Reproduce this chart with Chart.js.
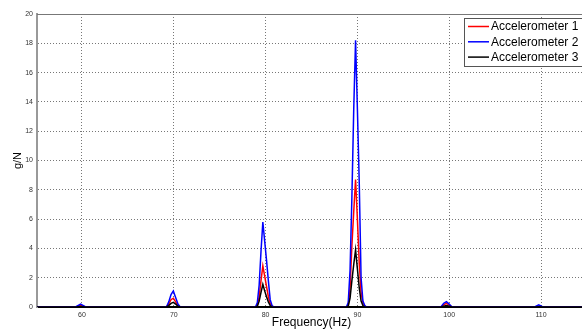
<!DOCTYPE html>
<html lang="en">
<head>
    <meta charset="UTF-8" />
    <title>Accelerometer FRF</title>
    <script src="https://cdn.jsdelivr.net/npm/chart.js"></script>
    <style>
        html, body { margin: 0; padding: 0; background: #fff; overflow: hidden; }
        #wrap { width: 590px; height: 330px; }
    </style>
</head>
<body>
<div id="wrap"><canvas id="frfChart" width="590" height="330"></canvas></div>
<script>
    // frequency points (Hz)
    const freq = [55,
        59.3, 59.85, 60.4,
        69.2, 69.45, 69.7, 69.95, 70.2, 70.45, 70.7,
        78.9, 79.1, 79.3, 79.5, 79.7, 79.9, 80.1, 80.3, 80.5, 80.7, 80.9,
        88.8, 89.0, 89.2, 89.4, 89.6, 89.8, 90.0, 90.2, 90.4, 90.6, 90.8, 91.0,
        99.1, 99.4, 99.7, 100.0, 100.3,
        109.3, 109.75, 110.2,
        115];

    // g/N
    const accel1 = [0,
        0, 0.1, 0,
        0, 0.2, 0.5, 0.6, 0.35, 0.1, 0,
        0, 0.1, 0.7, 1.8, 2.8, 2.1, 1.4, 0.7, 0.25, 0.05, 0,
        0, 0.1, 1.3, 4.2, 6.5, 8.7, 6.0, 3.0, 1.0, 0.3, 0.05, 0,
        0, 0.15, 0.25, 0.12, 0,
        0, 0.05, 0,
        0];
    const accel2 = [0,
        0, 0.2, 0,
        0, 0.35, 0.85, 1.1, 0.65, 0.2, 0,
        0, 0.3, 1.5, 3.8, 5.8, 4.5, 3.2, 1.8, 0.5, 0.1, 0,
        0, 0.3, 2.5, 7.5, 13.5, 18.2, 13.5, 8.5, 2.0, 0.4, 0.1, 0,
        0, 0.25, 0.36, 0.2, 0,
        0, 0.15, 0,
        0];
    const accel3 = [0,
        0, 0.03, 0,
        0, 0.1, 0.25, 0.32, 0.2, 0.05, 0,
        0, 0.05, 0.4, 1.0, 1.55, 1.1, 0.7, 0.35, 0.1, 0, 0,
        0, 0.05, 0.6, 1.8, 2.9, 3.9, 2.6, 1.3, 0.4, 0.1, 0, 0,
        0, 0.05, 0.1, 0.05, 0,
        0, 0.02, 0,
        0];

    const seriesNames = ['Accelerometer 1', 'Accelerometer 2', 'Accelerometer 3'];
    const seriesColors = ['#ff0000', '#0000ff', '#000000'];
    const xTicks = [60, 70, 80, 90, 100, 110];
    const yTicks = [0, 2, 4, 6, 8, 10, 12, 14, 16, 18, 20];

    const toPoints = vals => freq.map((f, i) => ({ x: f, y: vals[i] }));

    // boxed legend in the upper right, plus the top frame line
    const boxLegend = {
        id: 'boxLegend',
        afterDraw(chart) {
            const ctx = chart.ctx;
            const a = chart.chartArea;
            ctx.save();
            ctx.strokeStyle = '#777';
            ctx.lineWidth = 1;
            ctx.beginPath();
            ctx.moveTo(a.left, a.top + 0.5);
            ctx.lineTo(a.right, a.top + 0.5);
            ctx.stroke();

            const x0 = 464.5, y0 = 18.5, w = 150, h = 48;
            ctx.fillStyle = '#fff';
            ctx.fillRect(x0, y0, w, h);
            ctx.strokeStyle = '#555';
            ctx.strokeRect(x0, y0, w, h);
            ctx.font = '12px "Liberation Sans", Arial, sans-serif';
            ctx.textBaseline = 'middle';
            chart.data.datasets.forEach((ds, i) => {
                const y = 26.5 + i * 15.3;
                ctx.strokeStyle = ds.borderColor;
                ctx.lineWidth = 1.5;
                ctx.beginPath();
                ctx.moveTo(468, y);
                ctx.lineTo(489, y);
                ctx.stroke();
                ctx.fillStyle = '#000';
                ctx.fillText(ds.label, 491, y + 0.5);
            });
            ctx.restore();
        }
    };

    new Chart(document.getElementById('frfChart'), {
        type: 'line',
        data: {
            datasets: [accel1, accel2, accel3].map((vals, i) => ({
                label: seriesNames[i],
                data: toPoints(vals),
                borderColor: seriesColors[i],
                borderWidth: 1.5,
                pointRadius: 0,
                tension: 0,
                order: 2 - i
            }))
        },
        options: {
            responsive: false,
            animation: false,
            layout: { padding: { top: 14, right: 4, left: 0, bottom: 0 } },
            plugins: { legend: { display: false }, tooltip: { enabled: false } },
            scales: {
                x: {
                    type: 'linear',
                    min: 55.1,
                    max: 114.9,
                    afterBuildTicks: s => { s.ticks = xTicks.map(v => ({ value: v })); },
                    afterFit: s => { s.height = 23; },
                    grid: { color: '#777', drawTicks: false },
                    border: { color: '#000', width: 2, dash: [1, 2] },
                    ticks: { padding: 4, color: '#333', font: { size: 7, family: 'Liberation Sans' } },
                    title: {
                        display: true, text: 'Frequency(Hz)', color: '#000',
                        padding: 0, font: { size: 12, family: 'Liberation Sans' }
                    }
                },
                y: {
                    min: 0,
                    max: 20,
                    afterBuildTicks: s => { s.ticks = yTicks.map(v => ({ value: v })); },
                    afterFit: s => { s.width = 37; },
                    grid: { color: '#777', drawTicks: false },
                    border: { color: '#999', width: 2, dash: [1, 2] },
                    ticks: { padding: 4, color: '#333', font: { size: 7, family: 'Liberation Sans' } },
                    title: {
                        display: true, text: 'g/N', color: '#000',
                        padding: { top: 11, bottom: 0 }, font: { size: 11, family: 'Liberation Sans' }
                    }
                }
            }
        },
        plugins: [boxLegend]
    });
</script>
</body>
</html>
